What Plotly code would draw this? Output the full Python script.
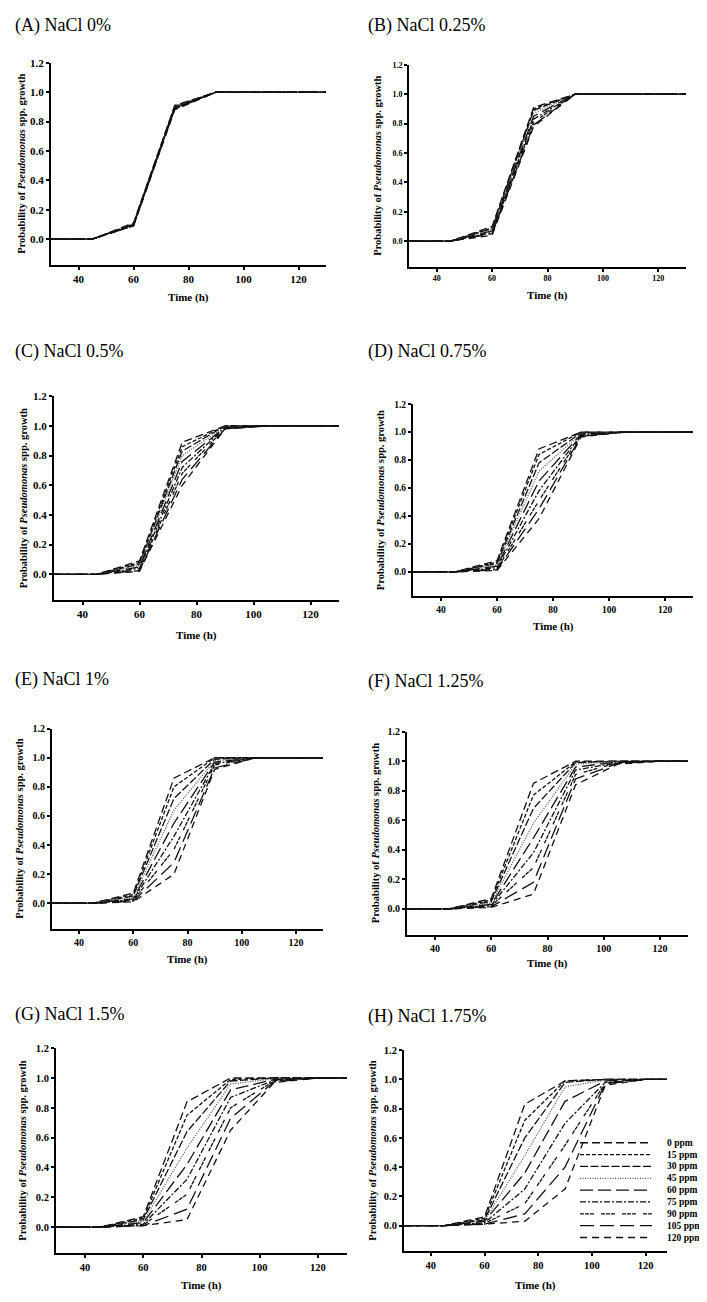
import plotly.graph_objects as go

# ---------------- data ----------------
time_h = [30, 45, 60, 75, 90, 105, 120, 130]
ppm_labels = ["0 ppm", "15 ppm", "30 ppm", "45 ppm", "60 ppm", "75 ppm", "90 ppm", "105 ppm", "120 ppm"]
panel_titles = ["(A) NaCl 0%", "(B) NaCl 0.25%", "(C) NaCl 0.5%", "(D) NaCl 0.75%",
                "(E) NaCl 1%", "(F) NaCl 1.25%", "(G) NaCl 1.5%", "(H) NaCl 1.75%"]
x_ticks = [40, 60, 80, 100, 120]
y_ticks = [0.0, 0.2, 0.4, 0.6, 0.8, 1.0, 1.2]

prob_A = [
    [0, 0, 0.110, 0.910, 1, 1, 1, 1],
    [0, 0, 0.105, 0.905, 1, 1, 1, 1],
    [0, 0, 0.100, 0.900, 1, 1, 1, 1],
    [0, 0, 0.100, 0.900, 1, 1, 1, 1],
    [0, 0, 0.100, 0.895, 1, 1, 1, 1],
    [0, 0, 0.095, 0.890, 1, 1, 1, 1],
    [0, 0, 0.095, 0.890, 1, 1, 1, 1],
    [0, 0, 0.090, 0.885, 1, 1, 1, 1],
    [0, 0, 0.090, 0.880, 1, 1, 1, 1],
]
prob_B = [
    [0, 0, 0.100, 0.91, 1, 1, 1, 1],
    [0, 0, 0.090, 0.90, 1, 1, 1, 1],
    [0, 0, 0.085, 0.89, 1, 1, 1, 1],
    [0, 0, 0.080, 0.87, 1, 1, 1, 1],
    [0, 0, 0.070, 0.85, 1, 1, 1, 1],
    [0, 0, 0.060, 0.83, 1, 1, 1, 1],
    [0, 0, 0.055, 0.81, 1, 1, 1, 1],
    [0, 0, 0.050, 0.79, 1, 1, 1, 1],
    [0, 0, 0.040, 0.78, 1, 1, 1, 1],
]
prob_C = [
    [0, 0, 0.090, 0.89, 1.000, 1, 1, 1],
    [0, 0, 0.080, 0.86, 1.000, 1, 1, 1],
    [0, 0, 0.070, 0.83, 1.000, 1, 1, 1],
    [0, 0, 0.060, 0.80, 0.995, 1, 1, 1],
    [0, 0, 0.050, 0.76, 0.990, 1, 1, 1],
    [0, 0, 0.040, 0.72, 0.990, 1, 1, 1],
    [0, 0, 0.030, 0.68, 0.985, 1, 1, 1],
    [0, 0, 0.025, 0.64, 0.980, 1, 1, 1],
    [0, 0, 0.020, 0.60, 0.980, 1, 1, 1],
]
prob_D = [
    [0, 0, 0.080, 0.88, 1.000, 1, 1, 1],
    [0, 0, 0.070, 0.84, 1.000, 1, 1, 1],
    [0, 0, 0.060, 0.78, 0.995, 1, 1, 1],
    [0, 0, 0.050, 0.72, 0.990, 1, 1, 1],
    [0, 0, 0.040, 0.65, 0.985, 1, 1, 1],
    [0, 0, 0.030, 0.58, 0.980, 1, 1, 1],
    [0, 0, 0.020, 0.51, 0.975, 1, 1, 1],
    [0, 0, 0.015, 0.45, 0.970, 1, 1, 1],
    [0, 0, 0.010, 0.38, 0.965, 1, 1, 1],
]
prob_E = [
    [0, 0, 0.070, 0.86, 1.00, 1, 1, 1],
    [0, 0, 0.060, 0.80, 1.00, 1, 1, 1],
    [0, 0, 0.050, 0.72, 0.99, 1, 1, 1],
    [0, 0, 0.040, 0.64, 0.98, 1, 1, 1],
    [0, 0, 0.030, 0.55, 0.97, 1, 1, 1],
    [0, 0, 0.025, 0.46, 0.96, 1, 1, 1],
    [0, 0, 0.020, 0.37, 0.95, 1, 1, 1],
    [0, 0, 0.015, 0.28, 0.93, 1, 1, 1],
    [0, 0, 0.010, 0.20, 0.92, 1, 1, 1],
]
prob_F = [
    [0, 0, 0.070, 0.85, 1.000, 1.000, 1, 1],
    [0, 0, 0.060, 0.77, 0.995, 1.000, 1, 1],
    [0, 0, 0.050, 0.68, 0.990, 1.000, 1, 1],
    [0, 0, 0.040, 0.58, 0.980, 1.000, 1, 1],
    [0, 0, 0.030, 0.48, 0.960, 0.995, 1, 1],
    [0, 0, 0.025, 0.38, 0.940, 0.990, 1, 1],
    [0, 0, 0.020, 0.28, 0.910, 0.990, 1, 1],
    [0, 0, 0.015, 0.18, 0.880, 0.985, 1, 1],
    [0, 0, 0.010, 0.10, 0.840, 0.980, 1, 1],
]
prob_G = [
    [0, 0, 0.070, 0.84, 1.00, 1.000, 1, 1],
    [0, 0, 0.060, 0.75, 0.99, 1.000, 1, 1],
    [0, 0, 0.050, 0.64, 0.98, 1.000, 1, 1],
    [0, 0, 0.040, 0.53, 0.96, 0.995, 1, 1],
    [0, 0, 0.030, 0.42, 0.92, 0.990, 1, 1],
    [0, 0, 0.020, 0.32, 0.87, 0.985, 1, 1],
    [0, 0, 0.015, 0.22, 0.80, 0.980, 1, 1],
    [0, 0, 0.010, 0.12, 0.73, 0.975, 1, 1],
    [0, 0, 0.010, 0.05, 0.65, 0.970, 1, 1],
]
prob_H = [
    [0, 0, 0.060, 0.83, 0.99, 1.000, 1, 1],
    [0, 0, 0.050, 0.72, 0.99, 1.000, 1, 1],
    [0, 0, 0.040, 0.60, 0.98, 1.000, 1, 1],
    [0, 0, 0.035, 0.48, 0.95, 0.995, 1, 1],
    [0, 0, 0.030, 0.36, 0.85, 0.990, 1, 1],
    [0, 0, 0.020, 0.25, 0.70, 0.980, 1, 1],
    [0, 0, 0.015, 0.15, 0.55, 0.975, 1, 1],
    [0, 0, 0.010, 0.08, 0.40, 0.970, 1, 1],
    [0, 0, 0.010, 0.03, 0.25, 0.960, 1, 1],
]
panel_data = [prob_A, prob_B, prob_C, prob_D, prob_E, prob_F, prob_G, prob_H]

# ---------------- styling / layout ----------------
OFF = 8                      # default page body margin
W, H = 707 - OFF, 1302 - OFF
SERIF = "Liberation Serif, Times New Roman, serif"
dash_styles = ["8px,4px", "4px,2px", "8px,2.5px", "1px,1.5px", "13px,5px",
               "6px,2px,2px,2px", "4px,1px,4px,1px,4px,7px", "14px,6px", "7px,5px"]
dash_colors = ["#111", "#111", "#111", "#555", "#111", "#111", "#111", "#111", "#111"]

# pixel boxes (in reference page pixels) of each plotting area: (left, right, top, bottom)
boxes = [(51, 326, 57, 260), (409, 686, 59, 262),
         (54, 339, 392, 597), (413, 693, 400, 593),
         (52, 323, 726, 927), (407, 688, 729, 933),
         (56, 347, 1047, 1253), (404, 667, 1049, 1251)]
x_ranges = [[30, 130]] * 7 + [[30, 128]]
tick_sizes = [11, 8, 11, 9.5, 10, 10, 10.5, 10.5]
title_pos = [(13, 20), (366, 20), (13, 347), (366, 347),
             (13, 677), (366, 679), (13, 1013), (366, 1015)]
ytitle_x = [22, 378, 23, 380, 20, 375, 23, 373]
xtitle_y = [293, 291, 632, 623, 958, 962, 1285, 1285]

def px_x(p):
    return (p - OFF) / W

def px_y(p):
    return 1 - (p - OFF) / H

fig = go.Figure()
layout = dict(width=W, height=H, margin=dict(l=0, r=0, t=0, b=0),
              paper_bgcolor="white", plot_bgcolor="white", showlegend=False)
annotations = []
shapes = []

for k, data in enumerate(panel_data):
    sfx = "" if k == 0 else str(k + 1)
    l, r, t, b = boxes[k]
    axis_common = dict(showline=True, linecolor="black", linewidth=2, ticks="outside",
                       ticklen=3, tickwidth=1.5, tickcolor="black", showgrid=False,
                       zeroline=False,
                       tickfont=dict(family=SERIF, size=tick_sizes[k], color="black", weight="bold"))
    layout["xaxis" + sfx] = dict(domain=[px_x(l), px_x(r)], range=x_ranges[k],
                                 tickvals=x_ticks, anchor="y" + sfx, **axis_common)
    layout["yaxis" + sfx] = dict(domain=[px_y(b), px_y(t)], range=[-0.175, 1.2],
                                 tickvals=y_ticks, tickformat=".1f", anchor="x" + sfx,
                                 **axis_common)
    for i, series in enumerate(data):
        fig.add_trace(go.Scatter(
            x=time_h, y=series, mode="lines", name=ppm_labels[i],
            line=dict(color=dash_colors[i], width=1.3, dash=dash_styles[i]),
            xaxis="x" + sfx, yaxis="y" + sfx, hoverinfo="skip"))
    tx, ty = title_pos[k]
    annotations.append(dict(text=panel_titles[k], x=px_x(tx), y=px_y(ty), xref="paper",
                            yref="paper", xanchor="left", yanchor="middle", showarrow=False,
                            font=dict(family=SERIF, size=18, color="black")))
    annotations.append(dict(text="<b>Probability of <i>Pseudomonas</i> spp. growth</b>",
                            x=px_x(ytitle_x[k]), y=px_y((t + b) / 2), xref="paper",
                            yref="paper", xanchor="center", yanchor="middle", textangle=-90,
                            showarrow=False,
                            font=dict(family=SERIF, size=10.5, color="black")))
    annotations.append(dict(text="<b>Time (h)</b>", x=px_x((l + r) / 2), y=px_y(xtitle_y[k]),
                            xref="paper", yref="paper", xanchor="center", yanchor="middle",
                            showarrow=False,
                            font=dict(family=SERIF, size=11, color="black")))

# legend drawn inside panel H
leg_x0, leg_x1, leg_lbl_x, leg_y0, leg_dy = 580, 652, 665, 1142, 11.9
for i, lbl in enumerate(ppm_labels):
    yy = px_y(leg_y0 + i * leg_dy)
    shapes.append(dict(type="line", xref="paper", yref="paper", x0=px_x(leg_x0),
                       x1=px_x(leg_x1), y0=yy, y1=yy,
                       line=dict(color=dash_colors[i], width=1.3, dash=dash_styles[i])))
    annotations.append(dict(text="<b>" + lbl + "</b>", x=px_x(leg_lbl_x), y=yy,
                            xref="paper", yref="paper", xanchor="left", yanchor="middle",
                            showarrow=False,
                            font=dict(family=SERIF, size=9.5, color="black")))

layout["annotations"] = annotations
layout["shapes"] = shapes
fig.update_layout(**layout)
fig.write_html("out.html")
